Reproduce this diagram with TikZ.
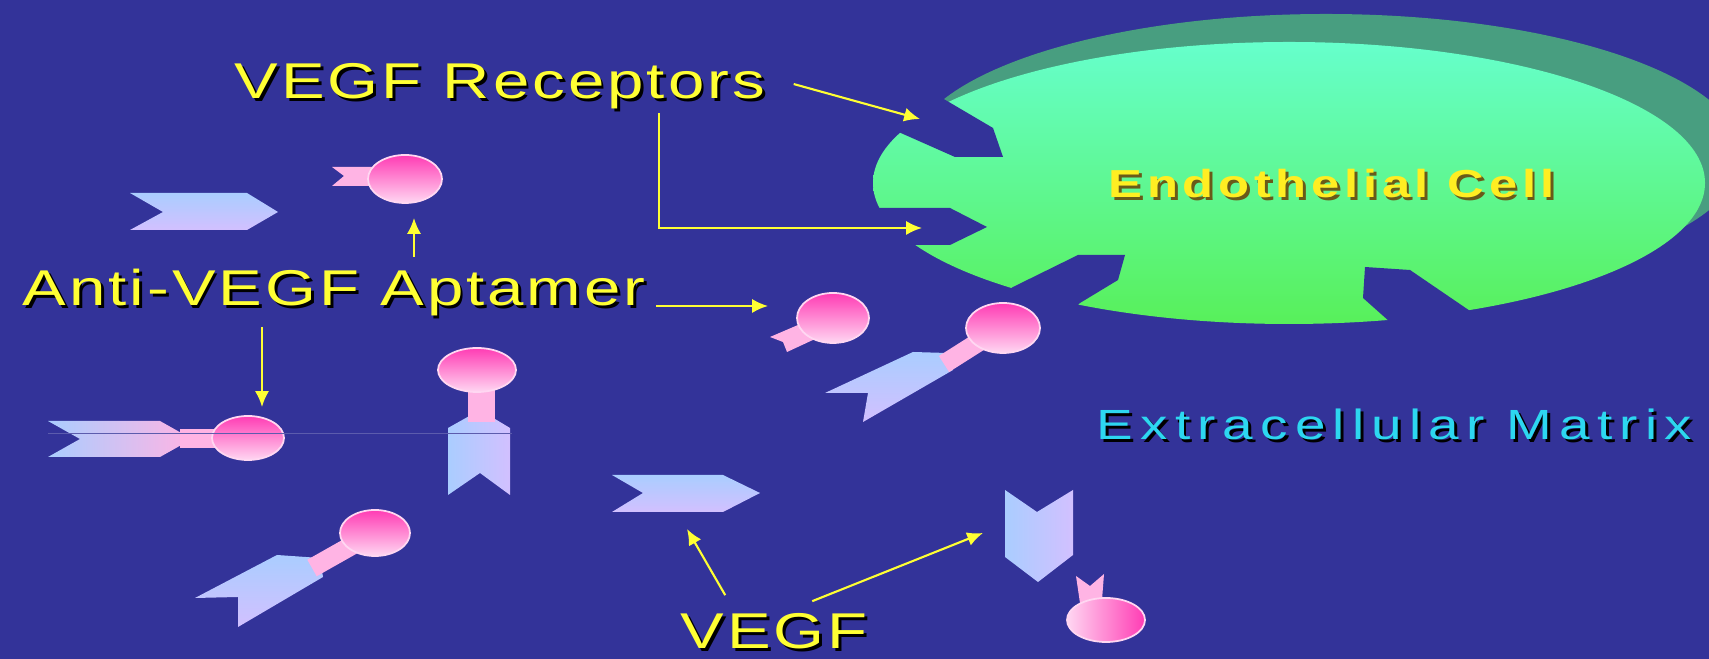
\documentclass[tikz,border=0pt]{standalone}
\usepackage{fontspec}
\usetikzlibrary{arrows.meta}
\setmainfont{Liberation Sans}
\newfontfamily\labelfont[FakeStretch=1.3,LetterSpace=6]{Liberation Sans}
\newfontfamily\matrixfont[FakeStretch=1.3,LetterSpace=17]{Liberation Sans}
\newfontfamily\cellfont[FakeStretch=1.3,LetterSpace=12]{Liberation Sans}
\definecolor{slide}{RGB}{51,51,153}
\definecolor{labelyellow}{RGB}{255,255,51}
\definecolor{cellyellow}{RGB}{255,238,34}
\definecolor{cellshade}{RGB}{105,90,25}
\definecolor{matrixcyan}{RGB}{45,215,240}
\definecolor{celltop}{RGB}{102,255,204}
\definecolor{cellbottom}{RGB}{88,240,90}
\definecolor{cellrim}{RGB}{72,158,128}
\definecolor{vegftop}{RGB}{170,205,255}
\definecolor{vegfbottom}{RGB}{210,192,255}
\definecolor{apttop}{RGB}{255,60,180}
\definecolor{aptbottom}{RGB}{255,215,242}
\definecolor{aptstem}{RGB}{255,180,228}
% text with a small drop shadow behind it
\newcommand{\shadowed}[2]{\makebox[0pt][l]{\hspace{0.8pt}\raisebox{-0.8pt}{\color{#1}#2}}#2}

\begin{document}
\begin{tikzpicture}[
		x=0.01cm, y=-0.01cm,
		vegf/.style={top color=vegftop, bottom color=vegfbottom},
		vegfside/.style={left color=vegftop, right color=vegfbottom},
		head/.style={top color=apttop, bottom color=aptbottom, draw=aptbottom, line width=0.5pt},
		stem/.style={fill=aptstem},
		stemline/.style={draw=aptstem, line width=5.4pt},
		notch/.style={fill=slide},
		tag/.style={anchor=base west, inner sep=0pt, text=labelyellow,
			font=\labelfont\fontsize{14.3pt}{17pt}\selectfont},
		pointer/.style={->, >={Latex[length=4.5pt,width=4pt]}, draw=labelyellow, line width=0.6pt}
	]
	\useasboundingbox (0,0) rectangle (1709,659);
	\fill[slide] (0,0) rectangle (1709,659);
	\clip (0,0) rectangle (1709,659);

	% the cell with its receptor sites
	\fill[cellrim] (1326,155) ellipse [x radius=416, y radius=141];
	\shade[top color=celltop, bottom color=cellbottom] (1289,183) ellipse [x radius=416, y radius=141];
	\fill[notch] (925,88) -- (993,128) -- (1003,157) -- (955,157) -- (885,126) -- cycle;
	\fill[notch] (860,208) -- (950,208) -- (987,227) -- (950,245) -- (860,245) -- cycle;
	\fill[notch] (1013,287) -- (1078,255) -- (1125,255) -- (1118,280) -- (1080,303) -- (1040,340) -- (985,305) -- cycle;
	\fill[notch] (1365,267) -- (1410,270) -- (1473,313) -- (1490,345) -- (1390,345) -- (1390,322) -- (1363,298) -- cycle;
	\node[anchor=base west, inner sep=0pt, text=cellyellow,
		font=\cellfont\bfseries\fontsize{11.1pt}{13pt}\selectfont] (cell) at (1108,198)
		{\shadowed{cellshade}{Endothelial Cell}};

	% free VEGF
	\shade[vegf] (130,193) -- (247,193) -- (278,212) -- (247,230) -- (130,230) -- (163,212) -- cycle;
	\shade[vegf] (612,475) -- (723,475) -- (760,493) -- (723,512) -- (612,512) -- (643,493) -- cycle;
	\shade[vegfside] (1005,490) -- (1037,512) -- (1073,490) -- (1073,555) -- (1038,582) -- (1005,557) -- cycle;

	% free aptamers
	\fill[stem] (332,167) -- (378,167) -- (378,186) -- (332,186) -- (344,176) -- cycle;
	\shade[head] (405,179) ellipse [x radius=37, y radius=24];
	\fill[stem] (805,322) -- (815,339) -- (787,352) -- (783,342) -- (770,337) -- cycle;
	\shade[head] (833,318) ellipse [x radius=36, y radius=25];
	\fill[stem] (1080,603) -- (1076,576) -- (1090,586) -- (1104,574) -- (1102,600) -- cycle;
	\shade[head, left color=aptbottom, right color=apttop] (1106,620) ellipse [x radius=39, y radius=22];

	% VEGF bound to aptamer
	\shade[left color=vegftop, middle color=vegftop, right color=aptstem]
		(48,421) -- (160,421) -- (192,439) -- (160,457) -- (48,457) -- (80,439) -- cycle;
	\fill[stem] (180,429) rectangle (218,448);
	\shade[head] (248,438) ellipse [x radius=36, y radius=22];

	\shade[vegfside] (448,428) -- (480,410) -- (510,428) -- (510,495) -- (480,473) -- (448,495) -- cycle;
	\fill[stem] (468,388) rectangle (495,422);
	\shade[head] (477,370) ellipse [x radius=39, y radius=22];

	\shade[vegf] (195,598) -- (277,555) -- (320,558) -- (323,577) -- (238,627) -- (238,597) -- cycle;
	\draw[stemline] (312,568) -- (358,542);
	\shade[head] (375,533) ellipse [x radius=35, y radius=23];

	\shade[vegf] (825,393) -- (913,352) -- (947,353) -- (953,370) -- (863,422) -- (868,393) -- cycle;
	\draw[stemline] (944,364) -- (985,338);
	\shade[head] (1003,328) ellipse [x radius=37, y radius=25];

	\draw[slide!80!white, line width=0.25pt] (48,433) -- (512,433);

	% labels
	\node[tag] (recep) at (234,99) {\shadowed{black}{VEGF Receptors}};
	\node[tag] (apt) at (22,306) {\shadowed{black}{Anti-VEGF Aptamer}};
	\node[tag] (vegf) at (680,649) {\shadowed{black}{VEGF}};
	\node[tag, text=matrixcyan, font=\matrixfont\fontsize{12pt}{14pt}\selectfont] (ecm) at (1096,440)
		{\shadowed{black}{Extracellular Matrix}};

	% pointers
	\coordinate (site1) at (920,119);
	\coordinate (site2) at (922,228);
	\coordinate (aptup) at (414,218);
	\coordinate (aptright) at (768,306);
	\coordinate (boundhead) at (262,407);
	\coordinate (vegfmid) at (687,529);
	\coordinate (vegfright) at (983,533);
	\draw[pointer] (recep.east) ++(28,-4) -- (site1);
	\draw[pointer] (recep.south) ++(159,0) |- (site2);
	\draw[pointer] (apt.base east) ++(10,0) -- (aptright);
	\draw[pointer] (aptup |- apt.north) ++(0,-12) -- (aptup);
	\draw[pointer] (boundhead |- apt.south) ++(0,7) -- (boundhead);
	\draw[pointer] (vegf.north) ++(-49,-18) -- (vegfmid);
	\draw[pointer] (vegf.north) ++(38,-12) -- (vegfright);
\end{tikzpicture}
\end{document}
